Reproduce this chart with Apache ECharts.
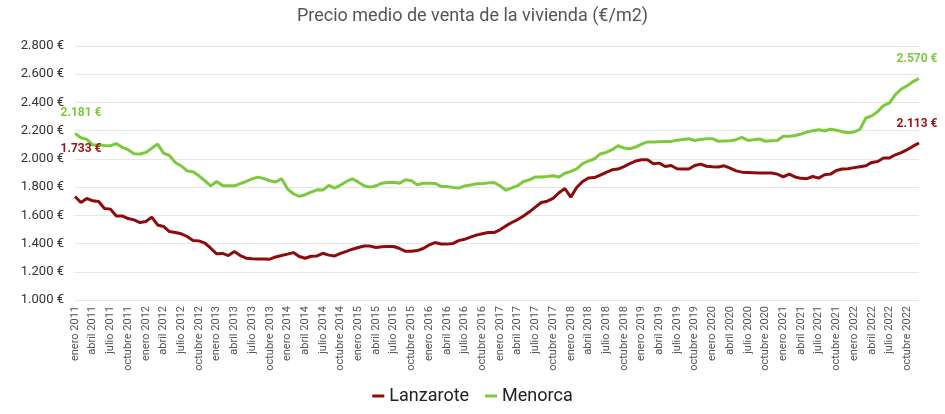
<!DOCTYPE html>
<html>
<head>
<meta charset="utf-8">
<script src="https://cdn.jsdelivr.net/npm/echarts@6/dist/echarts.min.js"></script>
<style>
html, body { margin: 0; padding: 0; background: #fff; }
#chart { width: 945px; height: 414px; }
</style>
</head>
<body>
<div id="chart"></div>
<script>
var meses = ['enero', 'febrero', 'marzo', 'abril', 'mayo', 'junio', 'julio', 'agosto', 'septiembre', 'octubre', 'noviembre', 'diciembre'];
var anios = [2011, 2012, 2013, 2014, 2015, 2016, 2017, 2018, 2019, 2020, 2021, 2022];

// etiquetas mensuales enero 2011 - diciembre 2022
var categorias = [];
anios.forEach(function (a) {
  meses.forEach(function (m) { categorias.push(m + ' ' + a); });
});

var lanzarote = [
  1733, 1691, 1720, 1703, 1698, 1648, 1644, 1596, 1596, 1577, 1568, 1549,
  1556, 1587, 1532, 1521, 1485, 1478, 1469, 1450, 1421, 1419, 1403, 1367,
  1327, 1330, 1315, 1343, 1315, 1296, 1292, 1291, 1290, 1289, 1305, 1315,
  1325, 1336, 1308, 1296, 1310, 1312, 1331, 1318, 1312, 1330, 1345, 1360,
  1372, 1383, 1382, 1372, 1378, 1379, 1379, 1365, 1345, 1345, 1350, 1365,
  1390, 1407, 1397, 1396, 1400, 1421, 1430, 1445, 1460, 1470, 1478, 1478,
  1497, 1525, 1549, 1570, 1595, 1625, 1658, 1691, 1700, 1720, 1760, 1790,
  1729, 1797, 1840, 1865, 1868, 1885, 1905, 1923, 1928, 1945, 1966, 1985,
  1994, 1994, 1966, 1970, 1946, 1953, 1930, 1929, 1928, 1953, 1963, 1948,
  1944, 1942, 1951, 1935, 1915, 1906, 1904, 1902, 1900, 1900, 1900, 1892,
  1872, 1892, 1872, 1862, 1860, 1875, 1864, 1888, 1892, 1918, 1928, 1930,
  1938, 1945, 1951, 1975, 1982, 2006, 2006, 2029, 2045, 2065, 2090, 2113
];

var menorca = [
  2181, 2150, 2138, 2100, 2098, 2095, 2093, 2108, 2082, 2065, 2037, 2035,
  2046, 2075, 2105, 2041, 2024, 1975, 1950, 1915, 1909, 1880, 1845, 1809,
  1840, 1812, 1810, 1809, 1825, 1840, 1858, 1871, 1860, 1845, 1836, 1859,
  1788, 1753, 1734, 1746, 1765, 1781, 1779, 1812, 1793, 1815, 1840, 1859,
  1835, 1809, 1800, 1809, 1828, 1832, 1835, 1828, 1852, 1845, 1817, 1828,
  1828, 1826, 1805, 1805, 1798, 1793, 1808, 1815, 1824, 1824, 1830, 1833,
  1810, 1778, 1795, 1810, 1840, 1852, 1872, 1871, 1875, 1880, 1872, 1898,
  1912, 1930, 1966, 1985, 2000, 2035, 2046, 2065, 2093, 2077, 2072, 2084,
  2105, 2120, 2120, 2122, 2124, 2124, 2132, 2138, 2143, 2130, 2138, 2142,
  2143, 2125, 2127, 2129, 2136, 2152, 2131, 2136, 2141, 2125, 2128, 2131,
  2160, 2160, 2166, 2176, 2190, 2200, 2207, 2198, 2210, 2203, 2193, 2185,
  2190, 2210, 2290, 2305, 2335, 2378, 2397, 2455, 2495, 2518, 2548, 2570
];

var colorLanzarote = '#8e0b0b';
var colorMenorca = '#7dc93e';

function euros(v) {
  return String(v).replace(/\B(?=(\d{3})+(?!\d))/g, '.') + ' €';
}

// solo se etiquetan el primer y el último punto
function conEtiquetas(valores, color, offsetIni) {
  return valores.map(function (v, i) {
    if (i === 0 || i === valores.length - 1) {
      return {
        value: v,
        label: {
          show: true,
          position: 'top',
          distance: 4,
          offset: i === 0 ? offsetIni : [-2, -9],
          color: color,
          fontWeight: 'bold',
          fontSize: 12,
          formatter: function (p) { return euros(p.value); }
        }
      };
    }
    return v;
  });
}

var chart = echarts.init(document.getElementById('chart'));

var option = {
  textStyle: { fontFamily: 'Roboto' },
  title: {
    text: 'Precio medio de venta de la vivienda (€/m2)',
    left: 'center',
    top: 2,
    textStyle: { fontSize: 18, fontWeight: 'normal', color: '#555' }
  },
  legend: {
    bottom: 4,
    left: 'center',
    itemWidth: 12,
    itemHeight: 3,
    itemGap: 16,
    icon: 'rect',
    textStyle: { fontSize: 18, color: '#222' },
    data: ['Lanzarote', 'Menorca']
  },
  grid: { left: 75, right: 26, top: 46, bottom: 114 },
  xAxis: {
    type: 'category',
    data: categorias,
    boundaryGap: false,
    axisLine: { show: false },
    axisTick: { show: false },
    axisLabel: {
      interval: 2,
      rotate: 90,
      fontSize: 11,
      color: '#555',
      margin: 6
    }
  },
  yAxis: {
    type: 'value',
    min: 1000,
    max: 2800,
    interval: 200,
    axisLine: { show: false },
    axisTick: { show: false },
    axisLabel: {
      fontSize: 13,
      color: '#333',
      margin: 11,
      formatter: euros
    },
    splitLine: { lineStyle: { color: '#e6e6e6' } }
  },
  series: [
    {
      name: 'Lanzarote',
      type: 'line',
      data: conEtiquetas(lanzarote, '#a01414', [6, -38]),
      color: colorLanzarote,
      symbol: 'circle',
      symbolSize: 0,
      showSymbol: true,
      showAllSymbol: true,
      lineStyle: { width: 3, color: colorLanzarote }
    },
    {
      name: 'Menorca',
      type: 'line',
      data: conEtiquetas(menorca, colorMenorca, [6, -10]),
      color: colorMenorca,
      symbol: 'circle',
      symbolSize: 0,
      showSymbol: true,
      showAllSymbol: true,
      lineStyle: { width: 3, color: colorMenorca }
    }
  ]
};

chart.setOption(option);
</script>
</body>
</html>
